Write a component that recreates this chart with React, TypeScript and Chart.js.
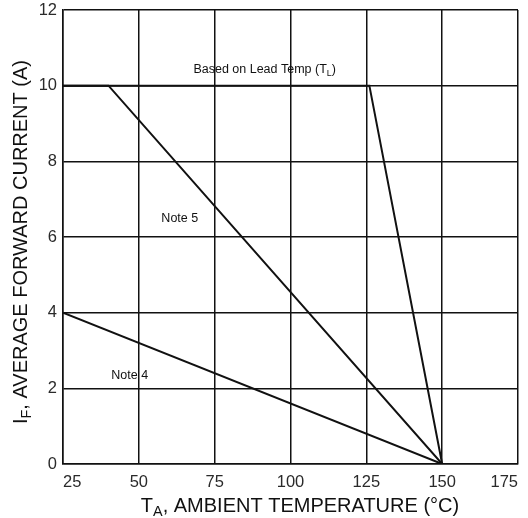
import React, { useEffect, useRef } from "react";
import { Chart, registerables } from "chart.js";

Chart.register(...registerables);

const xTicks = [25, 50, 75, 100, 125, 150, 175];
const yTicks = [0, 2, 4, 6, 8, 10, 12];

const leadTemp = [25, 126, 150];
const leadCurrent = [10, 10, 0];
const note5Temp = [25, 40, 150];
const note5Current = [10, 10, 0];
const note4Temp = [25, 150];
const note4Current = [4, 0];

const FONT = "'Liberation Sans', Arial, sans-serif";

const toPts = (xs: number[], ys: number[]) => xs.map((x, i) => ({ x, y: ys[i] }));

function drawSub(ctx: CanvasRenderingContext2D, parts: [string, boolean][], size: number) {
  let w = 0;
  for (const [t, sub] of parts) {
    ctx.font = `${sub ? size * 0.72 : size}px ${FONT}`;
    w += ctx.measureText(t).width;
  }
  let x = -w / 2;
  for (const [t, sub] of parts) {
    ctx.font = `${sub ? size * 0.72 : size}px ${FONT}`;
    ctx.fillText(t, x, sub ? size * 0.3 : 0);
    x += ctx.measureText(t).width;
  }
}

const textPlugin = {
  id: "texts",
  afterDraw(chart: any) {
    const ctx = chart.ctx as CanvasRenderingContext2D;
    const xs = chart.scales.x;
    const ys = chart.scales.y;
    ctx.save();
    ctx.fillStyle = "#111";
    ctx.textBaseline = "middle";
    ctx.textAlign = "left";
    ctx.save();
    ctx.translate(xs.getPixelForValue(91.5), ys.getPixelForValue(10.42));
    drawSub(ctx, [["Based on Lead Temp (T", false], ["L", true], [")", false]], 12.5);
    ctx.restore();
    ctx.save();
    ctx.translate(xs.getPixelForValue(63.5), ys.getPixelForValue(6.5));
    drawSub(ctx, [["Note 5", false]], 12.5);
    ctx.restore();
    ctx.save();
    ctx.translate(xs.getPixelForValue(47), ys.getPixelForValue(2.35));
    drawSub(ctx, [["Note 4", false]], 12.5);
    ctx.restore();
    // x title
    ctx.save();
    ctx.translate(300, 506);
    drawSub(ctx, [["T", false], ["A", true], [", AMBIENT TEMPERATURE (°C)", false]], 20);
    ctx.restore();
    // y title
    ctx.save();
    ctx.translate(21, 242);
    ctx.rotate(-Math.PI / 2);
    drawSub(ctx, [["I", false], ["F", true], [", AVERAGE FORWARD CURRENT (A)", false]], 20);
    ctx.restore();
    ctx.restore();
  },
};

export default function App() {
  const ref = useRef<HTMLCanvasElement>(null);
  useEffect(() => {
    const lineStyle = {
      borderColor: "#111",
      borderWidth: 2,
      pointRadius: 0,
      showLine: true,
      fill: false,
      tension: 0,
    };
    const chart = new Chart(ref.current!, {
      type: "scatter",
      data: {
        datasets: [
          { label: "Lead", data: toPts(leadTemp, leadCurrent), ...lineStyle },
          { label: "Note 5", data: toPts(note5Temp, note5Current), ...lineStyle },
          { label: "Note 4", data: toPts(note4Temp, note4Current), ...lineStyle },
        ],
      },
      options: {
        animation: false,
        responsive: false,
        maintainAspectRatio: false,
        layout: { padding: { left: 0, top: 10, right: 10, bottom: 0 } },
        plugins: { legend: { display: false }, tooltip: { enabled: false } },
        scales: {
          x: {
            type: "linear",
            min: 25,
            max: 175,
            afterBuildTicks: (s: any) => {
              s.ticks = xTicks.map((v) => ({ value: v }));
            },
            afterFit: (s: any) => {
              s.height = 54;
              s.paddingRight = 0;
              s.paddingLeft = 0;
            },
            grid: { color: "#111", lineWidth: 1.5, drawTicks: false },
            border: { color: "#111", width: 1.5 },
            ticks: {
              color: "#2a2a2a",
              font: { family: FONT, size: 16.5 },
              padding: 9,
              align: "inner",
            },
          },
          y: {
            type: "linear",
            min: 0,
            max: 12,
            afterBuildTicks: (s: any) => {
              s.ticks = yTicks.map((v) => ({ value: v }));
            },
            afterFit: (s: any) => {
              s.width = 63;
              s.paddingTop = 0;
              s.paddingBottom = 0;
            },
            grid: { color: "#111", lineWidth: 1.5, drawTicks: false },
            border: { color: "#111", width: 1.5 },
            ticks: {
              color: "#2a2a2a",
              font: { family: FONT, size: 16.5 },
              padding: 6,
            },
          },
        },
      },
      plugins: [textPlugin],
    });
    return () => chart.destroy();
  }, []);
  return (
    <div style={{ position: "fixed", left: 0, top: 0, width: 528, height: 518, background: "#fff" }}>
      <canvas ref={ref} width={528} height={518} style={{ width: 528, height: 518 }} />
    </div>
  );
}
